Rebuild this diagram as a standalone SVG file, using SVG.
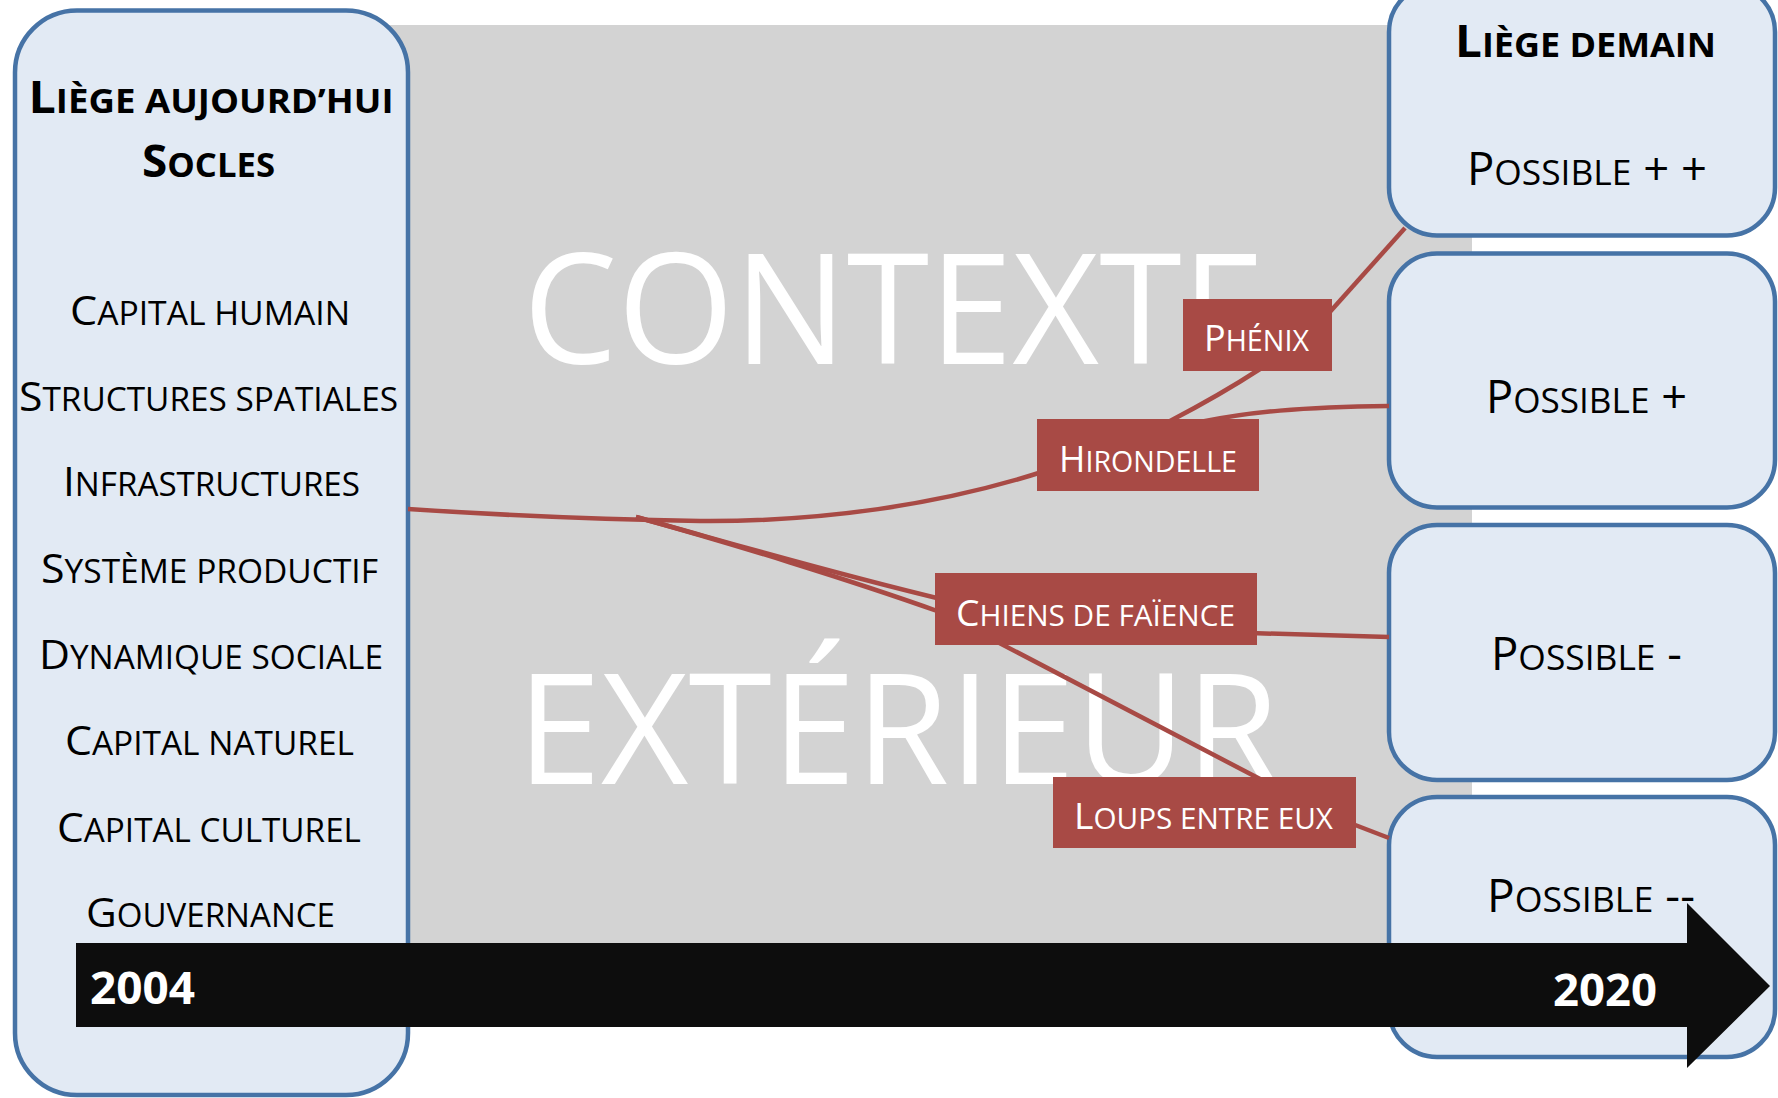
<svg xmlns="http://www.w3.org/2000/svg" width="1778" height="1098" viewBox="0 0 1778 1098">
<style>
.panel{fill:#e2eaf4;stroke:#4673a6;stroke-width:4.5}
.t{font-family:"Open Sans","Noto Sans",sans-serif;fill:#000;text-anchor:middle}
.title{font-weight:bold;font-size:45px}
.title .s{font-size:34px}
.item{font-size:41px}
.item .s{font-size:32px}
.poss{font-size:45px}
.poss .s{font-size:35px}
.big{font-family:"Open Sans","Noto Sans",sans-serif;fill:#fff;font-size:154px}
.lab rect{fill:#a84a45}
.lab text{font-family:"Open Sans","Noto Sans",sans-serif;fill:#fff;font-size:37px;text-anchor:middle}
.lab .s{font-size:29.5px}
.conn{fill:none;stroke:#a84a45;stroke-width:4.5}
.year{font-family:"Open Sans","Noto Sans",sans-serif;font-weight:bold;fill:#fff;font-size:45px}
</style>
<rect id="background" x="200" y="25" width="1272" height="960" fill="#d3d3d3"/>
<g id="context-words">
<text class="big" x="523" y="364" textLength="742" lengthAdjust="spacingAndGlyphs">CONTEXTE</text>
<text class="big" x="517" y="784" textLength="762" lengthAdjust="spacingAndGlyphs">EXTÉRIEUR</text>
</g>
<g id="liege-aujourdhui">
<rect class="panel" x="15" y="10.5" width="393" height="1084.5" rx="62"/>
<text class="t title" x="211" y="113" textLength="365" lengthAdjust="spacingAndGlyphs">L<tspan class="s">IÈGE AUJOURD’HUI</tspan></text>
<text class="t title" x="208.5" y="177" textLength="133" lengthAdjust="spacingAndGlyphs">S<tspan class="s">OCLES</tspan></text>
<text class="t item" x="210" y="325" textLength="280" lengthAdjust="spacingAndGlyphs">C<tspan class="s">APITAL HUMAIN</tspan></text>
<text class="t item" x="208.5" y="411" textLength="379" lengthAdjust="spacingAndGlyphs">S<tspan class="s">TRUCTURES SPATIALES</tspan></text>
<text class="t item" x="211.5" y="496" textLength="297" lengthAdjust="spacingAndGlyphs">I<tspan class="s">NFRASTRUCTURES</tspan></text>
<text class="t item" x="209.5" y="583" textLength="337" lengthAdjust="spacingAndGlyphs">S<tspan class="s">YSTÈME PRODUCTIF</tspan></text>
<text class="t item" x="211" y="669" textLength="344" lengthAdjust="spacingAndGlyphs">D<tspan class="s">YNAMIQUE SOCIALE</tspan></text>
<text class="t item" x="209.5" y="755" textLength="289" lengthAdjust="spacingAndGlyphs">C<tspan class="s">APITAL NATUREL</tspan></text>
<text class="t item" x="209" y="842" textLength="304" lengthAdjust="spacingAndGlyphs">C<tspan class="s">APITAL CULTUREL</tspan></text>
<text class="t item" x="210.5" y="927" textLength="249" lengthAdjust="spacingAndGlyphs">G<tspan class="s">OUVERNANCE</tspan></text>
</g>
<g id="possible-plus-plus">
<rect class="panel" x="1389" y="-16" width="386" height="251.5" rx="48"/>
<text class="t title" x="1585.5" y="57" textLength="261" lengthAdjust="spacingAndGlyphs">L<tspan class="s">IÈGE DEMAIN</tspan></text>
<text class="t poss" x="1587" y="185" textLength="240" lengthAdjust="spacingAndGlyphs">P<tspan class="s">OSSIBLE</tspan> + +</text>
</g>
<g id="possible-plus">
<rect class="panel" x="1389" y="253.5" width="386" height="254" rx="48"/>
<text class="t poss" x="1586.5" y="413" textLength="201" lengthAdjust="spacingAndGlyphs">P<tspan class="s">OSSIBLE</tspan> +</text>
</g>
<g id="possible-minus">
<rect class="panel" x="1389" y="525" width="386" height="255" rx="48"/>
<text class="t poss" x="1586.5" y="670" textLength="191" lengthAdjust="spacingAndGlyphs">P<tspan class="s">OSSIBLE</tspan> -</text>
</g>
<g id="possible-minus-minus">
<rect class="panel" x="1389" y="797" width="386" height="260" rx="48"/>
<text class="t poss" x="1591" y="912" textLength="208" lengthAdjust="spacingAndGlyphs">P<tspan class="s">OSSIBLE</tspan> --</text>
</g>
<g id="connectors">
<path class="conn" d="M408,509 Q560,519 700,521 C820,522 940,505 1045,471"/>
<path class="conn" d="M636,517 C720,540 820,570 945,600"/>
<path class="conn" d="M636,517 C730,543 850,580 940,612 L1260,779"/>
<path class="conn" d="M1170,421 Q1220,395 1260,369"/>
<path class="conn" d="M1320,323 L1405,228"/>
<path class="conn" d="M1200,422 C1250,412 1300,407 1389,406"/>
<path class="conn" d="M1250,633 L1389,637"/>
<path class="conn" d="M1350,823 L1389,838"/>
</g>
<g id="phenix" class="lab">
<rect x="1183" y="299" width="149" height="72"/>
<text x="1256.5" y="351" textLength="105" lengthAdjust="spacingAndGlyphs">P<tspan class="s">HÉNIX</tspan></text>
</g>
<g id="hirondelle" class="lab">
<rect x="1037" y="419" width="222" height="72"/>
<text x="1148" y="472" textLength="178" lengthAdjust="spacingAndGlyphs">H<tspan class="s">IRONDELLE</tspan></text>
</g>
<g id="chiens-de-faience" class="lab">
<rect x="935" y="573" width="322" height="72"/>
<text x="1095.5" y="626" textLength="279" lengthAdjust="spacingAndGlyphs">C<tspan class="s">HIENS DE FAÏENCE</tspan></text>
</g>
<g id="loups-entre-eux" class="lab">
<rect x="1053" y="777" width="303" height="71"/>
<text x="1203.5" y="829" textLength="259" lengthAdjust="spacingAndGlyphs">L<tspan class="s">OUPS ENTRE EUX</tspan></text>
</g>
<g id="timeline">
<path d="M76,943 H1687 V903 L1770,986 L1687,1068 V1027 H76 Z" fill="#0d0d0d"/>
<text class="year" x="90" y="1004" textLength="105" lengthAdjust="spacingAndGlyphs">2004</text>
<text class="year" x="1553" y="1006" textLength="104" lengthAdjust="spacingAndGlyphs">2020</text>
</g>
</svg>
